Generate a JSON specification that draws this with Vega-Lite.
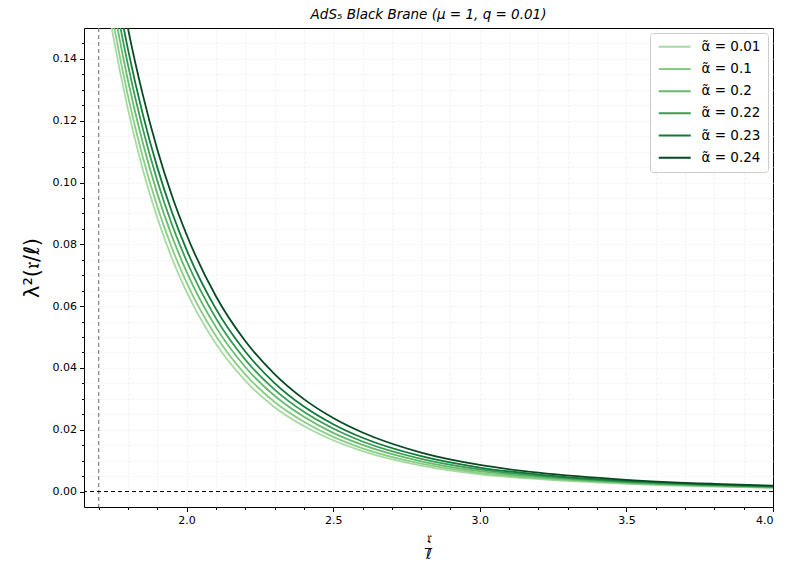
{
  "$schema": "https://vega.github.io/schema/vega-lite/v6.json",
  "width": 689,
  "height": 479,
  "autosize": {"type": "none"},
  "padding": {"left": 84, "top": 28, "right": 19, "bottom": 66},
  "background": "white",
  "title": {"text": "AdS₅ Black Brane (μ = 1,  q = 0.01)", "font": "DejaVu Sans", "fontStyle": "italic", "fontWeight": "normal", "fontSize": 13.5, "color": "black", "offset": 6, "anchor": "middle"},
  "config": {
    "view": {"stroke": "black", "strokeWidth": 1},
    "axis": {"labelFont": "DejaVu Sans", "labelFontSize": 11, "labelColor": "black", "tickColor": "black", "domain": false, "titleFont": "DejaVu Sans", "titleColor": "black", "titleFontWeight": "normal", "grid": false},
    "legend": {"orient": "top-right", "offset": 5, "fillColor": "white", "strokeColor": "#cccccc", "cornerRadius": 3, "padding": 7, "labelFont": "DejaVu Sans", "labelFontSize": 13.5, "labelColor": "black", "symbolType": "M-3.2,0H3.2", "symbolSize": 100, "symbolStrokeWidth": 2, "symbolOffset": 11, "labelOffset": 20, "rowPadding": 7.2, "title": null}
  },
  "datasets": {
    "curves": [
      {"a":"0.01","x":1.72,"y":0.1638},{"a":"0.01","x":1.75,"y":0.1472},{"a":"0.01","x":1.8,"y":0.1237},{"a":"0.01","x":1.85,"y":0.1044},{"a":"0.01","x":1.9,"y":0.0886},{"a":"0.01","x":1.95,"y":0.0755},{"a":"0.01","x":2.0,"y":0.0646},{"a":"0.01","x":2.1,"y":0.0478},{"a":"0.01","x":2.2,"y":0.0359},{"a":"0.01","x":2.3,"y":0.0273},{"a":"0.01","x":2.4,"y":0.0212},{"a":"0.01","x":2.5,"y":0.0166},{"a":"0.01","x":2.6,"y":0.0131},{"a":"0.01","x":2.8,"y":0.0084},{"a":"0.01","x":3.0,"y":0.0056},{"a":"0.01","x":3.2,"y":0.0040},{"a":"0.01","x":3.5,"y":0.0025},{"a":"0.01","x":3.8,"y":0.0016},{"a":"0.01","x":4.0,"y":0.0012},
      {"a":"0.1","x":1.72,"y":0.1688},{"a":"0.1","x":1.75,"y":0.1519},{"a":"0.1","x":1.8,"y":0.1280},{"a":"0.1","x":1.85,"y":0.1084},{"a":"0.1","x":1.9,"y":0.0922},{"a":"0.1","x":1.95,"y":0.0788},{"a":"0.1","x":2.0,"y":0.0676},{"a":"0.1","x":2.1,"y":0.0503},{"a":"0.1","x":2.2,"y":0.0379},{"a":"0.1","x":2.3,"y":0.0290},{"a":"0.1","x":2.4,"y":0.0226},{"a":"0.1","x":2.5,"y":0.0177},{"a":"0.1","x":2.6,"y":0.0140},{"a":"0.1","x":2.8,"y":0.00904},{"a":"0.1","x":3.0,"y":0.00605},{"a":"0.1","x":3.2,"y":0.00432},{"a":"0.1","x":3.5,"y":0.0027},{"a":"0.1","x":3.8,"y":0.00173},{"a":"0.1","x":4.0,"y":0.0013},
      {"a":"0.2","x":1.72,"y":0.1745},{"a":"0.2","x":1.75,"y":0.1574},{"a":"0.2","x":1.8,"y":0.1330},{"a":"0.2","x":1.85,"y":0.1130},{"a":"0.2","x":1.9,"y":0.0964},{"a":"0.2","x":1.95,"y":0.0826},{"a":"0.2","x":2.0,"y":0.0711},{"a":"0.2","x":2.1,"y":0.0532},{"a":"0.2","x":2.2,"y":0.0403},{"a":"0.2","x":2.3,"y":0.0310},{"a":"0.2","x":2.4,"y":0.0242},{"a":"0.2","x":2.5,"y":0.0190},{"a":"0.2","x":2.6,"y":0.0151},{"a":"0.2","x":2.8,"y":0.0098},{"a":"0.2","x":3.0,"y":0.00659},{"a":"0.2","x":3.2,"y":0.0047},{"a":"0.2","x":3.5,"y":0.00293},{"a":"0.2","x":3.8,"y":0.0019},{"a":"0.2","x":4.0,"y":0.00143},
      {"a":"0.22","x":1.72,"y":0.1801},{"a":"0.22","x":1.75,"y":0.1627},{"a":"0.22","x":1.8,"y":0.1380},{"a":"0.22","x":1.85,"y":0.1176},{"a":"0.22","x":1.9,"y":0.1006},{"a":"0.22","x":1.95,"y":0.0864},{"a":"0.22","x":2.0,"y":0.0746},{"a":"0.22","x":2.1,"y":0.0561},{"a":"0.22","x":2.2,"y":0.0427},{"a":"0.22","x":2.3,"y":0.0330},{"a":"0.22","x":2.4,"y":0.0258},{"a":"0.22","x":2.5,"y":0.0204},{"a":"0.22","x":2.6,"y":0.0162},{"a":"0.22","x":2.8,"y":0.01058},{"a":"0.22","x":3.0,"y":0.00715},{"a":"0.22","x":3.2,"y":0.00509},{"a":"0.22","x":3.5,"y":0.00317},{"a":"0.22","x":3.8,"y":0.00206},{"a":"0.22","x":4.0,"y":0.00156},
      {"a":"0.23","x":1.72,"y":0.1858},{"a":"0.23","x":1.75,"y":0.1683},{"a":"0.23","x":1.8,"y":0.1431},{"a":"0.23","x":1.85,"y":0.1223},{"a":"0.23","x":1.9,"y":0.1049},{"a":"0.23","x":1.95,"y":0.0904},{"a":"0.23","x":2.0,"y":0.0782},{"a":"0.23","x":2.1,"y":0.0591},{"a":"0.23","x":2.2,"y":0.0453},{"a":"0.23","x":2.3,"y":0.0351},{"a":"0.23","x":2.4,"y":0.0275},{"a":"0.23","x":2.5,"y":0.0218},{"a":"0.23","x":2.6,"y":0.0174},{"a":"0.23","x":2.8,"y":0.01143},{"a":"0.23","x":3.0,"y":0.00776},{"a":"0.23","x":3.2,"y":0.00551},{"a":"0.23","x":3.5,"y":0.00344},{"a":"0.23","x":3.8,"y":0.00225},{"a":"0.23","x":4.0,"y":0.0017},
      {"a":"0.24","x":1.72,"y":0.1934},{"a":"0.24","x":1.75,"y":0.1755},{"a":"0.24","x":1.8,"y":0.1498},{"a":"0.24","x":1.85,"y":0.1286},{"a":"0.24","x":1.9,"y":0.1107},{"a":"0.24","x":1.95,"y":0.0957},{"a":"0.24","x":2.0,"y":0.0831},{"a":"0.24","x":2.1,"y":0.0632},{"a":"0.24","x":2.2,"y":0.0487},{"a":"0.24","x":2.3,"y":0.0380},{"a":"0.24","x":2.4,"y":0.0299},{"a":"0.24","x":2.5,"y":0.0238},{"a":"0.24","x":2.6,"y":0.0191},{"a":"0.24","x":2.8,"y":0.0126},{"a":"0.24","x":3.0,"y":0.0086},{"a":"0.24","x":3.2,"y":0.0061},{"a":"0.24","x":3.5,"y":0.0038},{"a":"0.24","x":3.8,"y":0.0025},{"a":"0.24","x":4.0,"y":0.0019}
    ],
    "vline": [{"x": 1.7}],
    "hline": [{"y": 0}]
  },
  "layer": [
    {
      "data": {"name": "vline"},
      "mark": {"type": "rule", "color": "#888888", "strokeWidth": 1.2, "strokeDash": [4, 3]},
      "encoding": {
        "x": {"field": "x", "type": "quantitative", "scale": {"domain": [1.65, 4.0], "nice": false, "zero": false},
          "axis": {"orient": "bottom", "values": [1.7,1.8,1.9,2.0,2.1,2.2,2.3,2.4,2.5,2.6,2.7,2.8,2.9,3.0,3.1,3.2,3.3,3.4,3.5,3.6,3.7,3.8,3.9], "labels": false, "tickSize": 2.5, "title": null, "grid": true, "gridColor": "#eeeeee", "gridDash": [2, 2], "gridWidth": 0.8}}
      }
    },
    {
      "data": {"name": "hline"},
      "mark": {"type": "rule", "color": "black", "strokeWidth": 1, "strokeDash": [4, 3]},
      "encoding": {
        "y": {"field": "y", "type": "quantitative", "scale": {"domain": [-0.005, 0.15], "nice": false, "zero": false},
          "axis": {"orient": "left", "values": [0.005,0.01,0.015,0.02,0.025,0.03,0.035,0.04,0.045,0.05,0.055,0.06,0.065,0.07,0.075,0.08,0.085,0.09,0.095,0.1,0.105,0.11,0.115,0.12,0.125,0.13,0.135,0.14,0.145], "labels": false, "tickSize": 2.5, "title": null, "grid": true, "gridColor": "#eeeeee", "gridDash": [2, 2], "gridWidth": 0.8}}
      }
    },
    {
      "data": {"name": "curves"},
      "mark": {"type": "line", "strokeWidth": 1.8, "clip": true, "interpolate": "monotone"},
      "encoding": {
        "x": {"field": "x", "type": "quantitative", "scale": {"domain": [1.65, 4.0], "nice": false, "zero": false},
          "axis": {"orient": "bottom", "values": [2.0, 2.5, 3.0, 3.5, 4.0], "format": ".1f", "tickSize": 4.5, "labelPadding": 3, "title": ["𝔯", "ℓ̅"], "titleFontSize": 14, "titleLineHeight": 16, "titlePadding": 6}},
        "y": {"field": "y", "type": "quantitative", "scale": {"domain": [-0.005, 0.15], "nice": false, "zero": false},
          "axis": {"orient": "left", "values": [0, 0.02, 0.04, 0.06, 0.08, 0.1, 0.12, 0.14], "format": ".2f", "tickSize": 4.5, "labelPadding": 3, "title": "λ²(𝔯/ℓ)", "titleFontSize": 21, "titlePadding": 10}},
        "color": {"field": "a", "type": "nominal",
          "scale": {"domain": ["0.01", "0.1", "0.2", "0.22", "0.23", "0.24"], "range": ["#a6dba0", "#88cd86", "#66bb6c", "#3a9d55", "#127a37", "#064a22"]},
          "legend": {"labelExpr": "'α̃ = ' + datum.label"}}
      }
    }
  ],
  "resolve": {"axis": {"x": "independent", "y": "independent"}}
}
